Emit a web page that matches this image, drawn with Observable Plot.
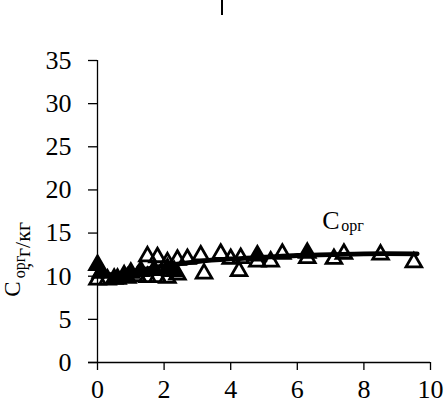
<!DOCTYPE html>
<html>
<head>
<meta charset="utf-8">
<script src="https://cdn.jsdelivr.net/npm/d3@7"></script>
<script src="https://cdn.jsdelivr.net/npm/@observablehq/plot@0.6"></script>
<style>
  html, body { margin: 0; padding: 0; background: #fff; }
  #chart { width: 445px; height: 407px; }
  #chart svg, #chart svg text { font-family: "Liberation Serif", "Times New Roman", serif !important; }
</style>
</head>
<body>
<div id="chart"></div>
<script>
// Open triangles
const openX = [0.0, 0.3, 0.6, 0.9, 1.2, 1.5, 1.8, 2.1, 2.4, 1.5, 1.8, 2.1, 2.4, 2.7, 3.1, 3.7, 4.0, 4.25, 3.2, 4.3, 4.8, 5.2, 5.55, 6.3, 7.1, 7.4, 8.5, 9.5];
const openY = [9.6, 9.6, 9.7, 9.8, 10.0, 9.9, 9.9, 9.8, 10.2, 12.3, 12.2, 11.6, 11.9, 12.0, 12.4, 12.6, 12.0, 10.6, 10.3, 12.1, 11.7, 11.7, 12.6, 12.1, 12.0, 12.6, 12.5, 11.6];
// Filled triangles
const filledX = [0.0, 0.1, 0.5, 0.8, 1.0, 1.3, 1.7, 2.1, 2.3, 4.8, 6.3];
const filledY = [11.3, 10.4, 9.7, 10.1, 10.4, 10.6, 10.7, 10.9, 10.6, 12.4, 12.7];
// Fitted line
const fitX = [0.0, 0.5, 1.0, 2.0, 3.0, 4.0, 5.0, 6.0, 7.0, 8.0, 9.6];
const fitY = [10.3, 10.2, 10.5, 11.2, 11.7, 12.0, 12.2, 12.4, 12.5, 12.6, 12.6];
// Axis ticks
const xTicks = [0, 2, 4, 6, 8, 10];
const yTicks = [0, 5, 10, 15, 20, 25, 30, 35];
// Series label
const seriesLabel = "C";
const seriesSub = "орг";
const labelX = 6.75;
const labelY = 15.5;
const yLabelMain = "C";
const yLabelSub = "орг";
const yLabelUnit = ", г/кг";

const openData = openX.map((x, i) => ({x, y: openY[i]}));
const filledData = filledX.map((x, i) => ({x, y: filledY[i]}));
const fitData = fitX.map((x, i) => ({x, y: fitY[i]}));

const font = "Liberation Serif";

const plot = Plot.plot({
  width: 445,
  height: 407,
  marginLeft: 97,
  marginRight: 15,
  marginTop: 60,
  marginBottom: 45,
  style: {fontFamily: font, fontSize: "26px", background: "white", color: "black", overflow: "visible"},
  x: {domain: [0, 10]},
  y: {domain: [0, 35]},
  marks: [
    Plot.axisY({ticks: yTicks, tickSize: 9, tickPadding: 17, label: null, fontSize: 26, strokeWidth: 1.3}),
    Plot.axisX({ticks: xTicks, tickSize: 8, tickPadding: 9, label: null, fontSize: 26, strokeWidth: 1.3}),
    Plot.ruleX([0], {stroke: "black", strokeWidth: 1.3}),
    Plot.ruleY([0], {x1: -0.27, x2: 10, stroke: "black", strokeWidth: 1.3}),
    Plot.line(fitData, {x: "x", y: "y", curve: "catmull-rom", stroke: "black", strokeWidth: 4.8}),
    Plot.dot(openData, {x: "x", y: "y", symbol: "triangle", r: 5.8, stroke: "black", strokeWidth: 2.8, fill: "none"}),
    Plot.dot(filledData, {x: "x", y: "y", symbol: "triangle", r: 5.8, stroke: "black", strokeWidth: 2.8, fill: "black"}),
    Plot.text([{x: labelX, y: labelY}], {x: "x", y: "y", text: () => seriesLabel, textAnchor: "start", lineAnchor: "bottom", fontSize: 26, fill: "black"}),
    Plot.text([{x: labelX, y: labelY}], {x: "x", y: "y", text: () => seriesSub, textAnchor: "start", lineAnchor: "bottom", fontSize: 16, dx: 19, dy: 2, fill: "black"})
  ]
});

document.getElementById("chart").appendChild(plot);

const svg = d3.select(plot);
svg.selectAll("text").attr("font-family", font);

// Rotated y-axis label with subscript
const yl = svg.append("text")
  .attr("transform", "rotate(-90)")
  .attr("font-family", font)
  .attr("fill", "black");
yl.append("tspan").attr("x", -289).attr("y", 20).attr("font-size", 23).text(yLabelMain);
yl.append("tspan").attr("x", -267).attr("y", 25).attr("font-size", 16).text(yLabelSub);
yl.append("tspan").attr("x", -245).attr("y", 30).attr("font-size", 22).text(yLabelUnit);

// small vertical mark at the top
svg.append("line")
  .attr("x1", 222).attr("x2", 222)
  .attr("y1", 0).attr("y2", 15)
  .attr("stroke", "black")
  .attr("stroke-width", 2);
</script>
</body>
</html>
